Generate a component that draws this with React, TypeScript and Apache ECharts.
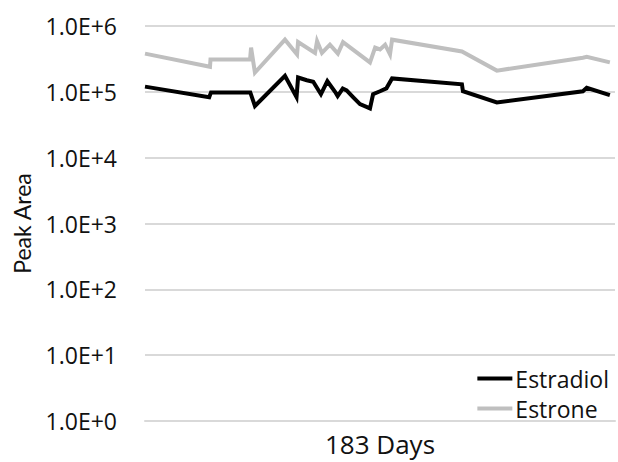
import React, { useEffect, useRef } from "react";
import * as echarts from "echarts";

const estradiolDays = [0, 25, 25.7, 41, 42.8, 54.5, 59, 59.6, 63, 65.5, 68.5, 71, 74, 75, 77, 78.5, 81, 83.7, 87.6, 88.8, 91.5, 94, 96.2, 123.4, 123.8, 137, 170.5, 172, 181];
const estradiolValues = [1.2e5, 8.3e4, 9.8e4, 9.8e4, 6.1e4, 1.75e5, 8.3e4, 1.65e5, 1.5e5, 1.42e5, 9.2e4, 1.45e5, 1.0e5, 8.6e4, 1.12e5, 1.05e5, 8.3e4, 6.5e4, 5.6e4, 9.2e4, 1.02e5, 1.13e5, 1.6e5, 1.3e5, 1.02e5, 6.9e4, 1.02e5, 1.15e5, 8.9e4];

const estroneDays = [0, 25.3, 25.5, 40.9, 41.3, 42.8, 54.5, 59.2, 59.6, 66.2, 67, 68.9, 72, 75.1, 77.1, 87.6, 89.6, 91.5, 93.5, 95.4, 96.2, 123.4, 137, 170.5, 172, 181];
const estroneValues = [3.8e5, 2.4e5, 3.1e5, 3.1e5, 4.7e5, 1.96e5, 6.2e5, 3.7e5, 5.7e5, 3.9e5, 5.9e5, 3.9e5, 5.2e5, 3.8e5, 5.7e5, 2.8e5, 4.7e5, 4.4e5, 5.2e5, 3.7e5, 6.2e5, 4.1e5, 2.1e5, 3.3e5, 3.4e5, 2.8e5];

const seriesNames = ["Estradiol", "Estrone"];
const xAxisName = "183 Days";
const yAxisName = "Peak Area";

const FONT = "'Open Sans', sans-serif";

export default function App() {
  const ref = useRef<HTMLDivElement>(null);
  useEffect(() => {
    document.body.style.margin = "0";
    const chart = echarts.init(ref.current!, null, { renderer: "svg" });
    const zip = (xs: number[], ys: number[]) => xs.map((x, i) => [x, ys[i]]);
    chart.setOption({
      animation: false,
      textStyle: { fontFamily: FONT },
      grid: { left: 145, right: 3, top: 26, bottom: 36 },
      legend: {
        orient: "vertical",
        right: 4,
        top: 362,
        icon: "rect",
        itemWidth: 35,
        itemHeight: 4,
        itemGap: 7,
        textStyle: { fontFamily: FONT, fontSize: 23, color: "#111", padding: [0, 0, 0, -2] },
        data: seriesNames,
      },
      xAxis: {
        type: "value",
        min: 0,
        max: 183,
        name: xAxisName,
        nameLocation: "middle",
        nameGap: 10,
        nameTextStyle: { fontFamily: FONT, fontSize: 26, color: "#111" },
        axisLine: { show: true, lineStyle: { color: "#d9d9d9", width: 2 } },
        axisTick: { show: false },
        axisLabel: { show: false },
        splitLine: { show: false },
      },
      yAxis: {
        type: "log",
        logBase: 10,
        min: 1,
        max: 1e6,
        name: yAxisName,
        nameLocation: "middle",
        nameGap: 112,
        nameTextStyle: { fontFamily: "Lato, sans-serif", fontSize: 23, color: "#111" },
        axisLine: { show: false },
        axisTick: { show: false },
        axisLabel: {
          fontFamily: FONT,
          fontSize: 23,
          color: "#111",
          margin: 28,
          formatter: (v: number) => "1.0E+" + Math.round(Math.log10(v)),
        },
        splitLine: { show: true, lineStyle: { color: "#d9d9d9", width: 2 } },
      },
      series: [
        {
          name: seriesNames[0],
          type: "line",
          data: zip(estradiolDays, estradiolValues),
          showSymbol: false,
          symbol: "none",
          z: 3,
          lineStyle: { color: "#000000", width: 4, join: "miter" },
          itemStyle: { color: "#000000" },
        },
        {
          name: seriesNames[1],
          type: "line",
          data: zip(estroneDays, estroneValues),
          showSymbol: false,
          symbol: "none",
          z: 2,
          lineStyle: { color: "#bfbfbf", width: 4, join: "miter" },
          itemStyle: { color: "#bfbfbf" },
        },
      ],
    });
    return () => chart.dispose();
  }, []);
  return <div ref={ref} style={{ width: 618, height: 462 }} />;
}
